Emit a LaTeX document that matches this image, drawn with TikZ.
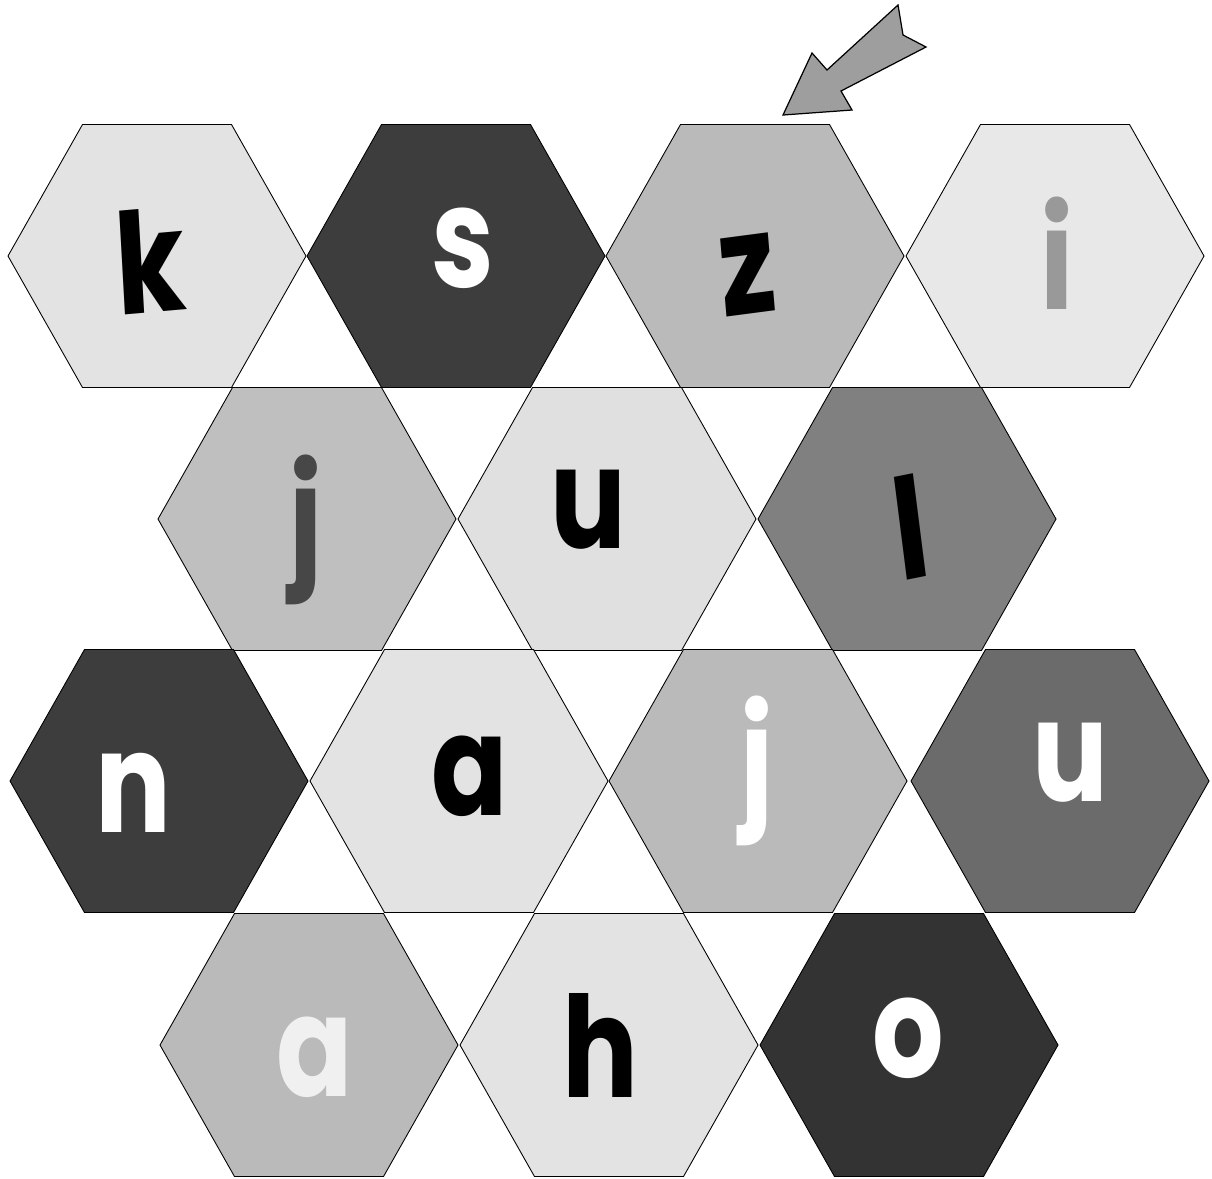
\documentclass[tikz,border=0pt]{standalone}
\usepackage{fontspec}
\setmainfont{Poppins}
\begin{document}
\begin{tikzpicture}[
    x=0.02cm,
    y=-0.02cm,
    hexa/.style={draw=black, line width=0.5pt, line join=miter},
    letra/.style={font=\fontsize{80}{86}\selectfont\bfseries, inner sep=0pt, anchor=center, xscale=0.8},
    seta/.style={draw=black, line width=0.7pt, fill=black!38, line join=miter}
]
\useasboundingbox (0,0) rectangle (1212,1178);

% Hexágonos:
% centro (x,y) em pixels e tom de cinza do preenchimento.
\foreach \cx/\cy/\tom in {157/256/11, 456/256/76, 755/256/27, 1055/256/9,
                          307/519/25, 607/519/12, 907/519/50,
                          159/781/76, 459/781/11, 758/781/27, 1060/781/58,
                          309/1045/27, 609/1045/11, 909/1045/80}
    \draw[hexa, fill=black!\tom] (\cx,\cy) ++(-149,0) -- ++(74.5,-131.5) -- ++(149,0)
        -- ++(74.5,131.5) -- ++(-74.5,131.5) -- ++(-149,0) -- cycle;

% Letras da primeira fileira
\node[letra, rotate=4] (k1) at (150,261) {k};
\node[letra, white] (s1) at (463,248) {s};
\node[letra, rotate=6] (z1) at (748,275) {z};
\node[letra, black!40] (i1) at (1057,253) {i};

% Letras da segunda fileira
\node[letra, black!72] (j2) at (306,530) {j};
\node[letra] (u2) at (588,510) {u};
\node[letra, rotate=9] (l2) at (910,527) {l};

% Letras da terceira fileira
\node[letra, white] (n3) at (133,793) {n};
\node[letra] (a3) at (470,776) {a};
\node[letra, white] (j3) at (757,771) {j};
\node[letra, white] (u3) at (1070,763) {u};

% Letras da quarta fileira
\node[letra, black!6] (a4) at (315,1057) {a};
\node[letra] (h4) at (600,1045) {h};
\node[letra, white] (o4) at (908,1038) {o};

% Seta:
% aponta para o hexágono do z, vinda do canto superior direito.
\draw[seta] (783,115) -- (812,53) -- (827,70) -- (898,5) -- (903,35)
    -- (926,47) -- (841,91) -- (852,110) -- cycle;

\end{tikzpicture}
\end{document}
